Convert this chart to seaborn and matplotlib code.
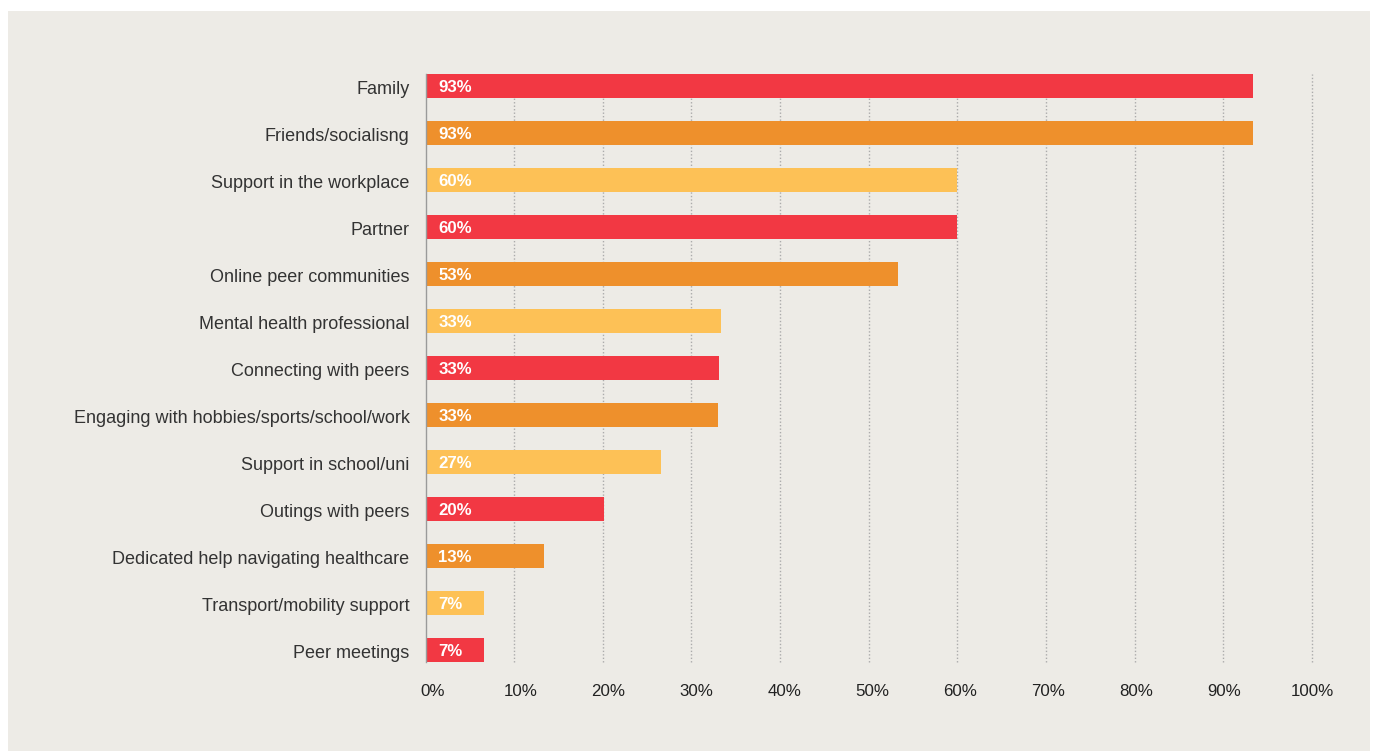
import matplotlib
matplotlib.use("Agg")
import matplotlib.pyplot as plt
from matplotlib.patches import Rectangle
from matplotlib.ticker import FixedLocator, FuncFormatter
from matplotlib.transforms import ScaledTranslation
import seaborn as sns
import pandas as pd

# Sources of support named by respondents (share, %)
categories = [
    "Family",
    "Friends/socialisng",
    "Support in the workplace",
    "Partner",
    "Online peer communities",
    "Mental health professional",
    "Connecting with peers",
    "Engaging with hobbies/sports/school/work",
    "Support in school/uni",
    "Outings with peers",
    "Dedicated help navigating healthcare",
    "Transport/mobility support",
    "Peer meetings",
]
values = [93.3, 93.3, 59.9, 60.0, 53.3, 33.3, 33.1, 33.0, 26.6, 20.1, 13.4, 6.6, 6.6]
x_ticks = [0, 10, 20, 30, 40, 50, 60, 70, 80, 90, 100]

RED, ORANGE, YELLOW = "#f23843", "#ee902c", "#fdc156"
bar_colors = [[RED, ORANGE, YELLOW][i % 3] for i in range(len(categories))]
BG = "#edebe6"

sns.set_theme(style="white")
plt.rcParams["font.family"] = ["Liberation Sans", "DejaVu Sans"]

df = pd.DataFrame({"category": categories, "value": values})

fig = plt.figure(figsize=(13.75, 7.51), dpi=100, facecolor="white")
W, H = 1375, 751
fig.patches.append(Rectangle((8 / W, 0), (1370 - 8) / W, 1 - 11 / H,
                             transform=fig.transFigure, facecolor=BG,
                             edgecolor="none", zorder=-10))

ax = fig.add_axes([425.5 / W, 1 - 662 / H, (1312 - 425.5) / W, (662 - 74) / H])
ax.set_facecolor(BG)
ax.patch.set_alpha(0)

sns.barplot(data=df, x="value", y="category", hue="category",
            palette=bar_colors, orient="h", width=0.51, legend=False,
            saturation=1, linewidth=0, edgecolor="none", ax=ax)

n = len(categories)
ax.set_ylim(n - 1 + 0.255, -0.255)
ax.set_xlim(0, 100)

# value labels inside the bars
for i, v in enumerate(values):
    ax.text(1.45, i, f"{v:.0f}%", color="white", fontsize=12.1,
            fontweight="bold", va="center_baseline", ha="left")

ax.xaxis.set_major_locator(FixedLocator(x_ticks))
ax.xaxis.set_major_formatter(FuncFormatter(lambda x, _: f"{x:.0f}%"))
ax.tick_params(axis="x", length=0, pad=16, labelsize=12.2, labelcolor="#222222")
ax.tick_params(axis="y", length=0, pad=11.5, labelsize=13.0, labelcolor="#333333")
ax.set_xlabel("")
ax.set_ylabel("")

# nudge category labels slightly down
shift = ScaledTranslation(0, -1.5 / 100, fig.dpi_scale_trans)
for lbl in ax.get_yticklabels():
    lbl.set_transform(lbl.get_transform() + shift)

# percentage labels sit a little right of their gridline on the low end
for t, lbl in zip(x_ticks, ax.get_xticklabels()):
    dx = 7.0 * (1 - t / 100) / 100
    lbl.set_transform(lbl.get_transform() + ScaledTranslation(dx, 0, fig.dpi_scale_trans))

# dotted vertical gridlines
ax.grid(False)
for t in x_ticks[1:]:
    ax.axvline(t, color="#ababab", linestyle=(0, (1, 1.5)), linewidth=1.0,
               zorder=0, clip_on=False)

for side in ["top", "right", "bottom"]:
    ax.spines[side].set_visible(False)
ax.spines["left"].set_color("#9a9a9a")
ax.spines["left"].set_linewidth(1.0)
ax.spines["left"].set_zorder(3)

fig.savefig("out.png", dpi=100, facecolor="white")
